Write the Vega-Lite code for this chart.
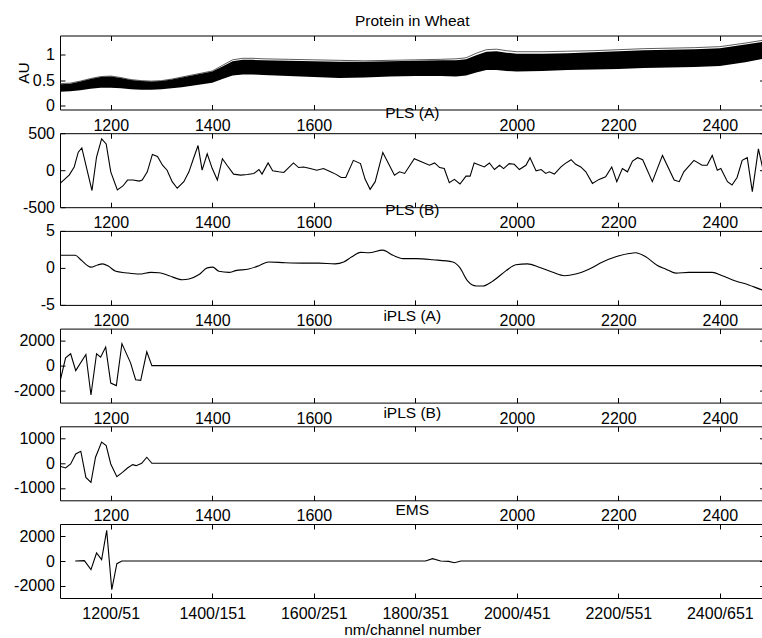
{
  "$schema": "https://vega.github.io/schema/vega-lite/v6.json",
  "padding": {"left": 13, "top": 12.5, "right": 0, "bottom": 0},
  "bounds": "flush",
  "spacing": 23.7,
  "datasets": {
    "wheat": [
      {"x":1100,"lo":0.27,"hi":0.42,"top":0.43},{"x":1120,"lo":0.28,"hi":0.43,"top":0.44},{"x":1140,"lo":0.30,"hi":0.47,"top":0.48},{"x":1160,"lo":0.33,"hi":0.52,"top":0.53},{"x":1180,"lo":0.35,"hi":0.56,"top":0.57},{"x":1200,"lo":0.35,"hi":0.57,"top":0.58},{"x":1220,"lo":0.34,"hi":0.54,"top":0.55},{"x":1240,"lo":0.32,"hi":0.50,"top":0.51},{"x":1260,"lo":0.31,"hi":0.48,"top":0.49},{"x":1280,"lo":0.31,"hi":0.47,"top":0.48},{"x":1300,"lo":0.32,"hi":0.48,"top":0.49},{"x":1320,"lo":0.34,"hi":0.51,"top":0.52},{"x":1340,"lo":0.36,"hi":0.55,"top":0.56},{"x":1360,"lo":0.39,"hi":0.59,"top":0.60},{"x":1380,"lo":0.42,"hi":0.63,"top":0.64},{"x":1400,"lo":0.45,"hi":0.67,"top":0.68},{"x":1420,"lo":0.52,"hi":0.77,"top":0.79},{"x":1440,"lo":0.59,"hi":0.87,"top":0.90},{"x":1460,"lo":0.61,"hi":0.90,"top":0.93},{"x":1480,"lo":0.61,"hi":0.90,"top":0.93},{"x":1500,"lo":0.60,"hi":0.89,"top":0.92},{"x":1550,"lo":0.58,"hi":0.88,"top":0.91},{"x":1600,"lo":0.56,"hi":0.87,"top":0.90},{"x":1650,"lo":0.54,"hi":0.86,"top":0.89},{"x":1700,"lo":0.55,"hi":0.86,"top":0.88},{"x":1750,"lo":0.57,"hi":0.87,"top":0.89},{"x":1800,"lo":0.58,"hi":0.88,"top":0.90},{"x":1850,"lo":0.58,"hi":0.89,"top":0.91},{"x":1880,"lo":0.57,"hi":0.89,"top":0.92},{"x":1900,"lo":0.59,"hi":0.91,"top":0.94},{"x":1920,"lo":0.65,"hi":0.99,"top":1.03},{"x":1940,"lo":0.70,"hi":1.06,"top":1.10},{"x":1960,"lo":0.70,"hi":1.07,"top":1.11},{"x":1980,"lo":0.68,"hi":1.04,"top":1.08},{"x":2000,"lo":0.67,"hi":1.02,"top":1.06},{"x":2050,"lo":0.68,"hi":1.02,"top":1.06},{"x":2100,"lo":0.70,"hi":1.03,"top":1.07},{"x":2150,"lo":0.71,"hi":1.05,"top":1.08},{"x":2200,"lo":0.72,"hi":1.07,"top":1.10},{"x":2250,"lo":0.74,"hi":1.09,"top":1.12},{"x":2300,"lo":0.75,"hi":1.10,"top":1.13},{"x":2350,"lo":0.76,"hi":1.11,"top":1.14},{"x":2400,"lo":0.78,"hi":1.13,"top":1.16},{"x":2450,"lo":0.85,"hi":1.20,"top":1.23},{"x":2500,"lo":0.95,"hi":1.28,"top":1.31}
    ],
    "plsA": [
      {"x":1100,"y":-180},{"x":1104,"y":-155},{"x":1118,"y":-67},{"x":1128,"y":44},{"x":1136,"y":244},{"x":1143,"y":302},{"x":1163,"y":-275},{"x":1172,"y":178},{"x":1182,"y":422},{"x":1191,"y":355},{"x":1200,"y":-22},{"x":1213,"y":-266},{"x":1224,"y":-213},{"x":1233,"y":-133},{"x":1244,"y":-133},{"x":1256,"y":-147},{"x":1262,"y":-133},{"x":1272,"y":-22},{"x":1282,"y":213},{"x":1292,"y":187},{"x":1302,"y":67},{"x":1311,"y":0},{"x":1321,"y":-155},{"x":1331,"y":-244},{"x":1344,"y":-155},{"x":1354,"y":-22},{"x":1364,"y":178},{"x":1372,"y":333},{"x":1380,"y":0},{"x":1390,"y":222},{"x":1400,"y":22},{"x":1410,"y":-133},{"x":1420,"y":155},{"x":1429,"y":67},{"x":1442,"y":-53},{"x":1456,"y":-67},{"x":1469,"y":-58},{"x":1482,"y":-44},{"x":1492,"y":9},{"x":1498,"y":-53},{"x":1510,"y":98},{"x":1519,"y":-9},{"x":1531,"y":-22},{"x":1541,"y":-31},{"x":1560,"y":98},{"x":1570,"y":36},{"x":1580,"y":44},{"x":1593,"y":22},{"x":1606,"y":0},{"x":1619,"y":22},{"x":1633,"y":-22},{"x":1643,"y":-53},{"x":1654,"y":-98},{"x":1663,"y":-98},{"x":1678,"y":133},{"x":1692,"y":89},{"x":1701,"y":-120},{"x":1711,"y":-258},{"x":1721,"y":-155},{"x":1736,"y":240},{"x":1759,"y":-67},{"x":1769,"y":-22},{"x":1779,"y":-44},{"x":1798,"y":155},{"x":1828,"y":67},{"x":1838,"y":98},{"x":1848,"y":36},{"x":1857,"y":22},{"x":1867,"y":-169},{"x":1877,"y":-124},{"x":1888,"y":-187},{"x":1900,"y":-80},{"x":1908,"y":-80},{"x":1916,"y":98},{"x":1936,"y":44},{"x":1946,"y":98},{"x":1956,"y":9},{"x":1966,"y":67},{"x":1974,"y":22},{"x":1985,"y":89},{"x":1995,"y":80},{"x":2005,"y":9},{"x":2018,"y":67},{"x":2026,"y":169},{"x":2038,"y":-9},{"x":2048,"y":9},{"x":2057,"y":-44},{"x":2064,"y":-22},{"x":2074,"y":-53},{"x":2087,"y":44},{"x":2095,"y":89},{"x":2107,"y":142},{"x":2116,"y":80},{"x":2126,"y":44},{"x":2136,"y":-22},{"x":2149,"y":-178},{"x":2162,"y":-124},{"x":2175,"y":-89},{"x":2187,"y":44},{"x":2197,"y":-155},{"x":2208,"y":22},{"x":2218,"y":-22},{"x":2228,"y":124},{"x":2238,"y":169},{"x":2248,"y":142},{"x":2267,"y":-155},{"x":2287,"y":200},{"x":2310,"y":-133},{"x":2320,"y":-155},{"x":2329,"y":-22},{"x":2349,"y":133},{"x":2365,"y":67},{"x":2375,"y":67},{"x":2385,"y":200},{"x":2395,"y":0},{"x":2402,"y":22},{"x":2415,"y":-155},{"x":2424,"y":-200},{"x":2434,"y":-98},{"x":2444,"y":133},{"x":2454,"y":169},{"x":2464,"y":-289},{"x":2476,"y":289},{"x":2488,"y":-80},{"x":2500,"y":-100}
    ],
    "plsB": [
      {"x":1100,"y":1.7},{"x":1130,"y":1.7},{"x":1141,"y":1.1},{"x":1161,"y":0.1},{"x":1174,"y":0.4},{"x":1184,"y":0.55},{"x":1195,"y":0.25},{"x":1210,"y":-0.46},{"x":1229,"y":-0.65},{"x":1256,"y":-0.83},{"x":1279,"y":-0.6},{"x":1295,"y":-0.65},{"x":1315,"y":-1.06},{"x":1341,"y":-1.6},{"x":1354,"y":-1.5},{"x":1374,"y":-0.9},{"x":1390,"y":0},{"x":1401,"y":0.1},{"x":1413,"y":-0.46},{"x":1433,"y":-0.6},{"x":1446,"y":-0.37},{"x":1472,"y":-0.14},{"x":1492,"y":0.3},{"x":1511,"y":0.8},{"x":1544,"y":0.7},{"x":1577,"y":0.65},{"x":1610,"y":0.65},{"x":1642,"y":0.55},{"x":1659,"y":0.8},{"x":1675,"y":1.5},{"x":1692,"y":2.1},{"x":1708,"y":2.05},{"x":1736,"y":2.4},{"x":1756,"y":1.7},{"x":1776,"y":1.25},{"x":1802,"y":1.25},{"x":1835,"y":1.1},{"x":1874,"y":0.8},{"x":1887,"y":0.1},{"x":1903,"y":-1.76},{"x":1920,"y":-2.45},{"x":1933,"y":-2.45},{"x":1953,"y":-1.76},{"x":1979,"y":-0.37},{"x":1998,"y":0.42},{"x":2021,"y":0.55},{"x":2044,"y":0.1},{"x":2071,"y":-0.6},{"x":2094,"y":-1.06},{"x":2116,"y":-0.83},{"x":2143,"y":-0.14},{"x":2169,"y":0.8},{"x":2195,"y":1.5},{"x":2221,"y":1.94},{"x":2234,"y":2.04},{"x":2254,"y":1.5},{"x":2277,"y":0.32},{"x":2293,"y":-0.14},{"x":2313,"y":-0.7},{"x":2339,"y":-0.6},{"x":2385,"y":-0.6},{"x":2405,"y":-1.06},{"x":2431,"y":-1.76},{"x":2457,"y":-2.3},{"x":2485,"y":-3.0},{"x":2500,"y":-3.2}
    ],
    "iplsA": [
      {"x":1100,"y":-1300},{"x":1111,"y":630},{"x":1121,"y":960},{"x":1131,"y":-410},{"x":1151,"y":900},{"x":1161,"y":-2380},{"x":1172,"y":960},{"x":1180,"y":685},{"x":1190,"y":1500},{"x":1200,"y":-1420},{"x":1211,"y":-1620},{"x":1222,"y":1780},{"x":1239,"y":220},{"x":1249,"y":-1150},{"x":1259,"y":-1200},{"x":1271,"y":1120},{"x":1281,"y":0},{"x":2500,"y":0}
    ],
    "iplsB": [
      {"x":1100,"y":-120},{"x":1111,"y":-190},{"x":1121,"y":-27},{"x":1131,"y":380},{"x":1141,"y":490},{"x":1151,"y":-570},{"x":1161,"y":-775},{"x":1170,"y":245},{"x":1182,"y":857},{"x":1191,"y":720},{"x":1200,"y":-27},{"x":1212,"y":-544},{"x":1223,"y":-367},{"x":1233,"y":-190},{"x":1243,"y":-54},{"x":1250,"y":-95},{"x":1261,"y":0},{"x":1271,"y":245},{"x":1281,"y":0},{"x":2500,"y":0}
    ],
    "ems": [
      {"x":1130,"y":0},{"x":1148,"y":30},{"x":1161,"y":-700},{"x":1172,"y":650},{"x":1182,"y":108},{"x":1192,"y":2480},{"x":1202,"y":-2320},{"x":1212,"y":-216},{"x":1222,"y":0},{"x":1820,"y":0},{"x":1834,"y":190},{"x":1850,"y":0},{"x":1866,"y":-30},{"x":1877,"y":-135},{"x":1890,"y":0},{"x":2500,"y":0}
    ]
  },
  "vconcat": [
    {
      "width": 704.5, "height": 74,
      "title": {"text": "Protein in Wheat", "offset": 6},
      "data": {"name": "wheat"},
      "layer": [
        {"mark": {"type": "line", "color": "#333333", "strokeWidth": 0.8, "clip": true},
         "encoding": {
           "x": {"field": "x", "type": "quantitative", "scale": {"domain": [1100, 2488], "nice": false, "zero": false},
                 "axis": {"values": [1200,1400,1600,1800,2000,2200,2400], "labelExpr": "datum.value == 1800 ? '' : '' + datum.value", "title": null}},
           "y": {"field": "top", "type": "quantitative", "scale": {"domain": [-0.08, 1.38], "nice": false, "zero": false},
                 "axis": {"values": [0, 0.5, 1], "labelExpr": "'' + datum.value", "title": "AU"}}
         }},
        {"mark": {"type": "area", "color": "black", "clip": true},
         "encoding": {
           "x": {"field": "x", "type": "quantitative", "axis": null},
           "y": {"field": "hi", "type": "quantitative", "axis": null},
           "y2": {"field": "lo"}
         }},
        {"mark": {"type": "line", "opacity": 0, "clip": true},
         "encoding": {
           "x": {"field": "x", "type": "quantitative", "axis": {"orient": "top", "values": [1200,1400,1600,1800,2000,2200,2400], "labels": false, "title": null}},
           "y": {"field": "hi", "type": "quantitative", "axis": {"orient": "right", "values": [0, 0.5, 1], "labels": false, "title": null}}
         }}
      ],
      "resolve": {"axis": {"x": "independent", "y": "independent"}}
    },
    {
      "width": 704.5, "height": 74,
      "title": {"text": "PLS (A)", "offset": 4},
      "data": {"name": "plsA"},
      "layer": [
        {"mark": {"type": "line", "color": "black", "strokeWidth": 1.1, "clip": true},
         "encoding": {
           "x": {"field": "x", "type": "quantitative", "scale": {"domain": [1100, 2488], "nice": false, "zero": false},
                 "axis": {"values": [1200,1400,1600,1800,2000,2200,2400], "labelExpr": "datum.value == 1800 ? '' : '' + datum.value", "title": null}},
           "y": {"field": "y", "type": "quantitative", "scale": {"domain": [-500, 500], "nice": false},
                 "axis": {"values": [-500, 0, 500], "labelExpr": "'' + datum.value", "title": null}}
         }},
        {"mark": {"type": "line", "opacity": 0, "clip": true},
         "encoding": {
           "x": {"field": "x", "type": "quantitative", "axis": {"orient": "top", "values": [1200,1400,1600,1800,2000,2200,2400], "labels": false, "title": null}},
           "y": {"field": "y", "type": "quantitative", "axis": {"orient": "right", "values": [-500, 0, 500], "labels": false, "title": null}}
         }}
      ],
      "resolve": {"axis": {"x": "independent", "y": "independent"}}
    },
    {
      "width": 704.5, "height": 74,
      "title": {"text": "PLS (B)", "offset": 4},
      "data": {"name": "plsB"},
      "layer": [
        {"mark": {"type": "line", "color": "black", "strokeWidth": 1.1, "clip": true, "interpolate": "monotone"},
         "encoding": {
           "x": {"field": "x", "type": "quantitative", "scale": {"domain": [1100, 2488], "nice": false, "zero": false},
                 "axis": {"values": [1200,1400,1600,1800,2000,2200,2400], "labelExpr": "datum.value == 1800 ? '' : '' + datum.value", "title": null}},
           "y": {"field": "y", "type": "quantitative", "scale": {"domain": [-5, 5], "nice": false},
                 "axis": {"values": [-5, 0, 5], "labelExpr": "'' + datum.value", "title": null}}
         }},
        {"mark": {"type": "line", "opacity": 0, "clip": true},
         "encoding": {
           "x": {"field": "x", "type": "quantitative", "axis": {"orient": "top", "values": [1200,1400,1600,1800,2000,2200,2400], "labels": false, "title": null}},
           "y": {"field": "y", "type": "quantitative", "axis": {"orient": "right", "values": [-5, 0, 5], "labels": false, "title": null}}
         }}
      ],
      "resolve": {"axis": {"x": "independent", "y": "independent"}}
    },
    {
      "width": 704.5, "height": 74,
      "title": {"text": "iPLS (A)", "offset": 4},
      "data": {"name": "iplsA"},
      "layer": [
        {"mark": {"type": "line", "color": "black", "strokeWidth": 1.1, "clip": true},
         "encoding": {
           "x": {"field": "x", "type": "quantitative", "scale": {"domain": [1100, 2488], "nice": false, "zero": false},
                 "axis": {"values": [1200,1400,1600,1800,2000,2200,2400], "labelExpr": "datum.value == 1800 ? '' : '' + datum.value", "title": null}},
           "y": {"field": "y", "type": "quantitative", "scale": {"domain": [-3000, 3000], "nice": false},
                 "axis": {"values": [-2000, 0, 2000], "labelExpr": "'' + datum.value", "title": null}}
         }},
        {"mark": {"type": "line", "opacity": 0, "clip": true},
         "encoding": {
           "x": {"field": "x", "type": "quantitative", "axis": {"orient": "top", "values": [1200,1400,1600,1800,2000,2200,2400], "labels": false, "title": null}},
           "y": {"field": "y", "type": "quantitative", "axis": {"orient": "right", "values": [-2000, 0, 2000], "labels": false, "title": null}}
         }}
      ],
      "resolve": {"axis": {"x": "independent", "y": "independent"}}
    },
    {
      "width": 704.5, "height": 74,
      "title": {"text": "iPLS (B)", "offset": 4},
      "data": {"name": "iplsB"},
      "layer": [
        {"mark": {"type": "line", "color": "black", "strokeWidth": 1.1, "clip": true},
         "encoding": {
           "x": {"field": "x", "type": "quantitative", "scale": {"domain": [1100, 2488], "nice": false, "zero": false},
                 "axis": {"values": [1200,1400,1600,1800,2000,2200,2400], "labelExpr": "datum.value == 1800 ? '' : '' + datum.value", "title": null}},
           "y": {"field": "y", "type": "quantitative", "scale": {"domain": [-1500, 1500], "nice": false},
                 "axis": {"values": [-1000, 0, 1000], "labelExpr": "'' + datum.value", "title": null}}
         }},
        {"mark": {"type": "line", "opacity": 0, "clip": true},
         "encoding": {
           "x": {"field": "x", "type": "quantitative", "axis": {"orient": "top", "values": [1200,1400,1600,1800,2000,2200,2400], "labels": false, "title": null}},
           "y": {"field": "y", "type": "quantitative", "axis": {"orient": "right", "values": [-1000, 0, 1000], "labels": false, "title": null}}
         }}
      ],
      "resolve": {"axis": {"x": "independent", "y": "independent"}}
    },
    {
      "width": 704.5, "height": 74,
      "title": {"text": "EMS", "offset": 5},
      "data": {"name": "ems"},
      "layer": [
        {"mark": {"type": "line", "color": "black", "strokeWidth": 1.1, "clip": true},
         "encoding": {
           "x": {"field": "x", "type": "quantitative", "scale": {"domain": [1100, 2488], "nice": false, "zero": false},
                 "axis": {"values": [1200,1400,1600,1800,2000,2200,2400], "labelExpr": "datum.value + '/' + ((datum.value - 1100) / 2 + 1)", "title": "nm/channel number"}},
           "y": {"field": "y", "type": "quantitative", "scale": {"domain": [-3000, 3000], "nice": false},
                 "axis": {"values": [-2000, 0, 2000], "labelExpr": "'' + datum.value", "title": null}}
         }},
        {"mark": {"type": "line", "opacity": 0, "clip": true},
         "encoding": {
           "x": {"field": "x", "type": "quantitative", "axis": {"orient": "top", "values": [1200,1400,1600,1800,2000,2200,2400], "labels": false, "title": null}},
           "y": {"field": "y", "type": "quantitative", "axis": {"orient": "right", "values": [-2000, 0, 2000], "labels": false, "title": null}}
         }}
      ],
      "resolve": {"axis": {"x": "independent", "y": "independent"}}
    }
  ],
  "config": {
    "background": "white",
    "font": "Liberation Sans",
    "view": {"stroke": "black", "strokeWidth": 1},
    "axis": {
      "labelFont": "Liberation Sans", "labelFontSize": 16, "labelColor": "black",
      "tickColor": "black", "tickSize": -5, "tickWidth": 1,
      "domain": false, "grid": false, "labelPadding": 12.5,
      "titleFont": "Liberation Sans", "titleFontSize": 15.5, "titleFontWeight": "normal", "titleColor": "black"
    },
    "axisX": {"titlePadding": 1},
    "axisY": {"labelPadding": 10.5, "titlePadding": 1},
    "title": {"font": "Liberation Sans", "fontSize": 15.5, "fontWeight": "normal", "color": "black", "baseline": "alphabetic", "frame": "group", "anchor": "middle"}
  }
}
